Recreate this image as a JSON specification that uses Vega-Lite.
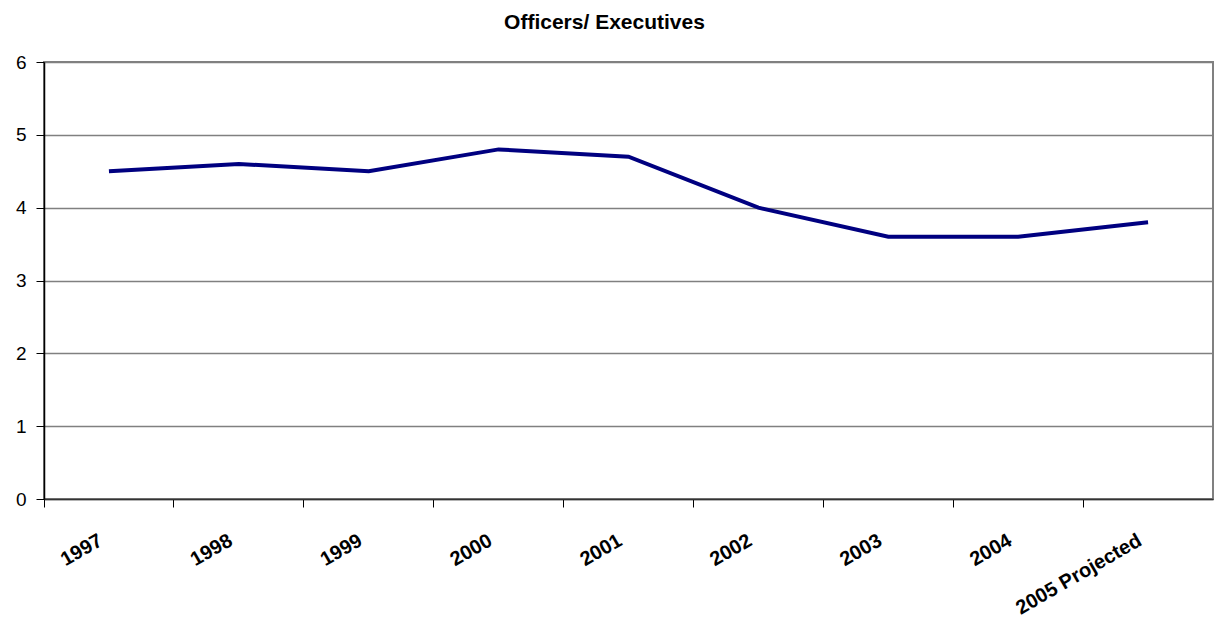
{
  "$schema": "https://vega.github.io/schema/vega-lite/v6.json",
  "width": 1169,
  "height": 437,
  "padding": {"left": 44, "top": 62, "right": 2, "bottom": 122},
  "autosize": {"type": "none"},
  "background": "white",
  "title": {
    "text": "Officers/ Executives",
    "font": "Liberation Sans",
    "fontSize": 21,
    "fontWeight": "bold",
    "color": "#000000",
    "anchor": "middle",
    "offset": 20,
    "dx": -24
  },
  "config": {
    "view": {"stroke": "#808080", "strokeWidth": 2},
    "axis": {"labelFont": "Liberation Sans", "labelColor": "#000000"}
  },
  "data": {
    "values": [
      {"year": "1997", "value": 4.5},
      {"year": "1998", "value": 4.6},
      {"year": "1999", "value": 4.5},
      {"year": "2000", "value": 4.8},
      {"year": "2001", "value": 4.7},
      {"year": "2002", "value": 4.0},
      {"year": "2003", "value": 3.6},
      {"year": "2004", "value": 3.6},
      {"year": "2005 Projected", "value": 3.8}
    ]
  },
  "mark": {"type": "line", "color": "#000080", "strokeWidth": 4, "strokeJoin": "miter"},
  "encoding": {
    "x": {
      "field": "year",
      "type": "ordinal",
      "sort": null,
      "scale": {"type": "band", "paddingInner": 0, "paddingOuter": 0},
      "axis": {
        "title": null,
        "bandPosition": 0,
        "domainColor": "#333333",
        "domainWidth": 1.5,
        "tickColor": "#000000",
        "tickSize": 8,
        "tickWidth": 1,
        "labelAngle": -30,
        "labelAlign": "right",
        "labelBaseline": "top",
        "labelFontSize": 20,
        "labelFontWeight": "bold",
        "labelPadding": 23,
        "labelOffset": -13,
        "labelOverlap": false,
        "grid": false
      }
    },
    "y": {
      "field": "value",
      "type": "quantitative",
      "scale": {"domain": [0, 6], "nice": false},
      "axis": {
        "title": null,
        "values": [0, 1, 2, 3, 4, 5, 6],
        "domainColor": "#000000",
        "domainWidth": 1.5,
        "tickColor": "#000000",
        "tickSize": 8,
        "labelFontSize": 19,
        "labelPadding": 10,
        "gridColor": "#808080",
        "gridWidth": 1.5,
        "gridOpacity": 1
      }
    }
  }
}
